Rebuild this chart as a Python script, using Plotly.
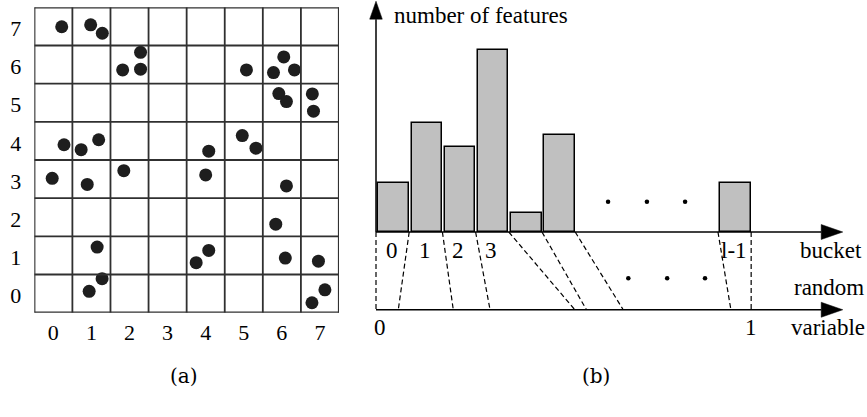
import plotly.graph_objects as go

W, H = 867, 417
SERIF = '"Liberation Serif", "Times New Roman", serif'

# ---------------- data: panel (a) ----------------
grid_n = 8
cell_labels = [str(i) for i in range(8)]
pts_x = [0.72, 1.48, 1.785, 2.79, 2.32, 2.79, 5.57, 6.28, 6.55, 6.83, 6.42, 6.62, 7.30, 7.33,
         0.78, 1.23, 1.69, 4.58, 5.46, 5.82, 0.47, 1.39, 2.35, 4.50, 6.62,
         6.34, 1.65, 4.58, 4.25, 6.59, 7.46, 1.78, 1.44, 7.63, 7.29]
pts_y = [7.49, 7.54, 7.32, 6.82, 6.36, 6.38, 6.36, 6.29, 6.70, 6.36, 5.74, 5.53, 5.73, 5.28,
         4.40, 4.27, 4.53, 4.23, 4.64, 4.31, 3.52, 3.36, 3.72, 3.61, 3.32,
         2.32, 1.72, 1.63, 1.31, 1.43, 1.35, 0.89, 0.56, 0.60, 0.26]

# ---------------- data: panel (b) ----------------
bucket_pos = [0, 1, 2, 3, 4, 5, 10.3]          # left edge of each drawn bucket
bucket_counts = [2, 4.5, 3.5, 7.5, 0.8, 4, 2]   # number of features
bucket_labels = ["0", "1", "2", "3", "", "", "l-1"]
edge_pos = [0, 1, 2, 3, 4, 5, 6, 10.3, 11.3]    # bucket boundaries
edge_rv = [0, 0.0594, 0.206, 0.304, 0.530, 0.561, 0.659, 0.946, 1.0]  # mapped random variable
dots_hist_x = [6.99, 8.16, 9.31]
dots_mid_x = [7.6, 8.77, 9.91]

# ---------------- geometry of panel (b) ----------------
PX_X0 = 376.0      # pixel x of bucket 0 edge
PX_DOM = 345.0     # pixel x where the panel-(b) axes start
PX_PER_U = 33.2    # pixels per bucket
PX_Y0 = 232.0      # pixel y of bucket axis
PX_PER_F = 24.3    # pixels per feature
RV_SCALE = 11.3    # bucket units per unit of random variable
RV_Y = -3.2        # y of random-variable axis (feature units)
AX_END = 14.06     # arrow tips (bucket units)
Y_END = 9.5

xr2 = [-(PX_X0 - PX_DOM) / PX_PER_U, (W - PX_X0) / PX_PER_U]
yr2 = [-(H - PX_Y0) / PX_PER_F, PX_Y0 / PX_PER_F]

fig = go.Figure()

# panel (a) points
fig.add_trace(go.Scatter(x=pts_x, y=pts_y, mode="markers", xaxis="x", yaxis="y",
                         marker=dict(size=13, color="#1e1e1e"), showlegend=False,
                         hoverinfo="skip"))

# panel (b) bars
fig.add_trace(go.Bar(x=[p + 0.53 for p in bucket_pos], y=bucket_counts, width=0.92,
                     xaxis="x2", yaxis="y2",
                     marker=dict(color="#c0c0c0", line=dict(color="black", width=1.5)),
                     showlegend=False, hoverinfo="skip"))

# dashed mapping lines
dx, dy = [], []
for e, r in zip(edge_pos, edge_rv):
    dx += [e, r * RV_SCALE, None]
    dy += [0, RV_Y, None]
fig.add_trace(go.Scatter(x=dx, y=dy, mode="lines", xaxis="x2", yaxis="y2",
                         line=dict(color="black", width=1.2, dash="5px,3px"),
                         showlegend=False, hoverinfo="skip"))

# ellipsis dots
fig.add_trace(go.Scatter(x=dots_hist_x + dots_mid_x,
                         y=[1.25] * len(dots_hist_x) + [-1.9] * len(dots_mid_x),
                         mode="markers", xaxis="x2", yaxis="y2",
                         marker=dict(size=4.5, color="black"), showlegend=False,
                         hoverinfo="skip"))

shapes = []
# grid for panel (a)
for i in range(grid_n + 1):
    w = 2.2 if i in (0, grid_n) else 1.8
    shapes.append(dict(type="line", xref="x", yref="y", x0=i, x1=i, y0=0, y1=grid_n,
                       line=dict(color="#303030", width=w)))
    shapes.append(dict(type="line", xref="x", yref="y", x0=0, x1=grid_n, y0=i, y1=i,
                       line=dict(color="#303030", width=w)))

# axes for panel (b)
ah_len_x = 21.6 / PX_PER_U
ah_half_x = 7.5 / PX_PER_F
ah_len_y = 18.0 / PX_PER_F
ah_half_y = 6.3 / PX_PER_U
for yy in (0, RV_Y):
    shapes.append(dict(type="line", xref="x2", yref="y2", x0=0, x1=AX_END - ah_len_x,
                       y0=yy, y1=yy, line=dict(color="black", width=1.5)))
    shapes.append(dict(type="path", xref="x2", yref="y2",
                       path=f"M{AX_END},{yy} L{AX_END - ah_len_x},{yy + ah_half_x} "
                            f"L{AX_END - ah_len_x},{yy - ah_half_x} Z",
                       fillcolor="black", line=dict(color="black", width=0.5)))
shapes.append(dict(type="line", xref="x2", yref="y2", x0=0, x1=0, y0=0, y1=Y_END - ah_len_y,
                   line=dict(color="black", width=1.5)))
shapes.append(dict(type="path", xref="x2", yref="y2",
                   path=f"M0,{Y_END} L{-ah_half_y},{Y_END - ah_len_y} L{ah_half_y},{Y_END - ah_len_y} Z",
                   fillcolor="black", line=dict(color="black", width=0.5)))

ann = []
tf = dict(family=SERIF, size=23, color="black")
tfa = dict(family=SERIF, size=22, color="black")
for p, lab in zip(bucket_pos, bucket_labels):
    if lab:
        ann.append(dict(x=p + 0.47, y=-0.77, xref="x2", yref="y2", text=lab,
                        showarrow=False, font=tf))
ann.append(dict(x=13.7, y=-0.77, xref="x2", yref="y2", text="bucket", showarrow=False, font=tf))
ann.append(dict(x=13.65, y=-2.3, xref="x2", yref="y2", text="random", showarrow=False, font=tf))
ann.append(dict(x=13.6, y=-3.95, xref="x2", yref="y2", text="variable", showarrow=False, font=tf))
ann.append(dict(x=0.12, y=-3.95, xref="x2", yref="y2", text="0", showarrow=False, font=tf))
ann.append(dict(x=RV_SCALE * 1.0, y=-3.95, xref="x2", yref="y2", text="1", showarrow=False, font=tf))
ann.append(dict(x=0.47, y=8.93, xref="x2", yref="y2", text="number of features",
                xanchor="left", showarrow=False, font=tf))
cf = dict(family="DejaVu Serif", size=20, color="black")
ann.append(dict(x=167.5 / W, y=1 - 390 / H, xref="paper", yref="paper", text="(a)",
                showarrow=False, font=cf))
ann.append(dict(x=611.7 / W, y=1 - 390 / H, xref="paper", yref="paper", text="(b)",
                showarrow=False, font=cf))

fig.update_layout(
    width=W, height=H, margin=dict(l=0, r=0, t=0, b=0),
    paper_bgcolor="white", plot_bgcolor="rgba(0,0,0,0)",
    xaxis=dict(domain=[34.3 / W, 339.0 / W], range=[0, grid_n], showgrid=False,
               zeroline=False, showline=False, tickvals=[i + 0.5 for i in range(grid_n)],
               ticktext=cell_labels, ticks="", tickfont=tfa, ticklabelstandoff=4,
               fixedrange=True),
    yaxis=dict(domain=[1 - 312.7 / H, 1 - 7.3 / H], range=[0, grid_n], showgrid=False,
               zeroline=False, showline=False, tickvals=[i + 0.45 for i in range(grid_n)],
               ticktext=cell_labels, ticks="", tickfont=tfa, ticklabelstandoff=12,
               fixedrange=True),
    xaxis2=dict(domain=[PX_DOM / W, 1], range=xr2, visible=False, fixedrange=True),
    yaxis2=dict(domain=[0, 1], range=yr2, visible=False, fixedrange=True, anchor="x2"),
    shapes=shapes, annotations=ann, bargap=0,
)

fig.write_html("out.html")
